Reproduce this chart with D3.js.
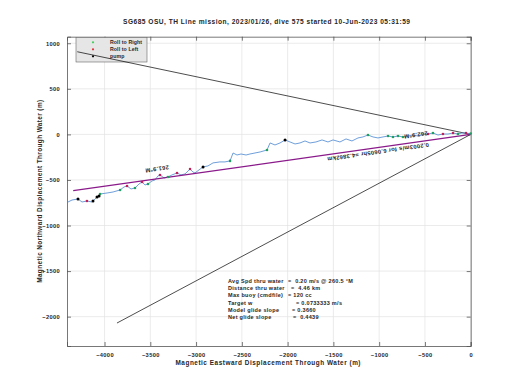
<!DOCTYPE html>
<html><head><meta charset="utf-8">
<script src="https://cdn.jsdelivr.net/npm/d3@7"></script>
<style>body{margin:0;background:#fff}svg{display:block}text{font-family:"Liberation Sans",Arial,sans-serif;font-weight:bold;fill:#262626}</style>
</head><body>
<script>
const title = "SG685 OSU, TH Line mission, 2023/01/26, dive 575 started 10-Jun-2023 05:31:59";
const xLabel = "Magnetic Eastward Displacement Through Water (m)";
const yLabel = "Magnetic Northward Displacement Through Water (m)";
const xTicks = [-4000,-3500,-3000,-2500,-2000,-1500,-1000,-500,0];
const yTicks = [1000,500,0,-500,-1000,-1500,-2000];
const xDomain = [-4410, 0];
const yDomain = [-2322, 1072];

// track (east, north) in m, from dive start outward
const trackE = [0,-51,-95,-139,-193,-248,-303,-357,-412,-466,-521,-576,-630,-685,-740,-794,-849,-903,-958,-1013,-1067,-1122,-1177,-1231,-1297,-1362,-1428,-1504,-1559,-1624,-1690,-1755,-1810,-1865,-1919,-1974,-2028,-2083,-2138,-2192,-2225,-2301,-2356,-2411,-2454,-2509,-2553,-2596,-2629,-2684,-2739,-2815,-2870,-2924,-2968,-3012,-3034,-3066,-3088,-3121,-3165,-3208,-3263,-3307,-3350,-3394,-3416,-3449,-3481,-3525,-3558,-3590,-3623,-3667,-3711,-3754,-3787,-3830,-3907,-3972,-4049,-4082,-4126,-4137,-4192,-4246,-4290,-4355,-4399];
const trackN = [0,15,15,4,15,4,4,-7,15,4,4,-18,-7,-18,-28,-18,-28,-18,-28,-39,-28,-7,-28,-39,-72,-50,-83,-61,-83,-61,-83,-94,-72,-94,-105,-83,-61,-94,-116,-94,-171,-193,-204,-215,-226,-215,-226,-204,-291,-302,-302,-313,-346,-357,-390,-423,-413,-380,-402,-434,-445,-423,-445,-467,-478,-445,-456,-500,-511,-544,-555,-522,-544,-588,-599,-566,-577,-610,-632,-643,-654,-687,-731,-742,-731,-742,-709,-720,-742];

const rollRightE = [0,-139,-412,-740,-794,-849,-903,-1122,-2225,-2629,-3307,-3525,-3667,-3830,-4049];
const rollRightN = [10,4,15,-28,-18,-28,-18,-7,-171,-291,-467,-544,-588,-610,-654];
const rollLeftE = [-51,-193,-303,-466,-3066,-3208,-3394,-3590,-3754,-4192];
const rollLeftN = [15,15,4,4,-380,-423,-445,-522,-566,-731];
const pumpE = [-2028,-2924,-4060,-4082,-4126,-4290];
const pumpN = [-61,-357,-676,-687,-731,-709];

// straight lines from origin
const boundUpperE = [0,-4298], boundUpperN = [0,907];
const boundLowerE = [0,-3864], boundLowerN = [0,-2070];
const dacE = [0,-4342], dacN = [0,-618];

const labelTexts = ["261.9°M","262.9°M","0.2003m/s for 6.0605hr =4.3862km"];
const labelE = [-3427,-600,-1013];
const labelN = [-380,-7,-193];
const labelAngle = 171.9;

const statsLabels = ["Avg Spd thru water","Distance thru water","Max buoy (cmdfile)","Target w","Model glide slope","Net glide slope"];
const statsValues = ["=  0.20 m/s @ 260.5 °M","=  4.46 km","= 120 cc","= 0.0733333 m/s","= 0.3660","=  0.4439"];
const statsEqX = [288,291,288,296,292,293];

const legendNames = ["Roll to Right","Roll to Left","pump"];
const legendColors = ["#3fcf5a","#e0303a","#000"];

const W=520,H=390;
const svg=d3.select("body").append("svg").attr("width",W).attr("height",H);
const L=67,R=470.7,T=36.7,B=346;
const x=d3.scaleLinear().domain(xDomain).range([L,R]);
const y=d3.scaleLinear().domain(yDomain).range([B,T]);

// grid
const g=svg.append("g");
g.selectAll(".gx").data(xTicks).join("line").attr("x1",d=>x(d)).attr("x2",d=>x(d)).attr("y1",T).attr("y2",B).attr("stroke","#e3e3e3").attr("stroke-width",0.7);
g.selectAll(".gy").data(yTicks).join("line").attr("y1",d=>y(d)).attr("y2",d=>y(d)).attr("x1",L).attr("x2",R).attr("stroke","#e3e3e3").attr("stroke-width",0.7);

// axes with inward ticks
const ax=d3.axisBottom(x).tickValues(xTicks).tickSize(-4).tickPadding(7).tickFormat(d3.format("d"));
const axT=d3.axisTop(x).tickValues(xTicks).tickSize(-4).tickFormat("");
const ay=d3.axisLeft(y).tickValues(yTicks).tickSize(-4).tickPadding(7).tickFormat(d3.format("d"));
const ayR=d3.axisRight(y).tickValues(yTicks).tickSize(-4).tickFormat("");
function style(sel){sel.select(".domain").attr("stroke","#555").attr("stroke-width",0.8);sel.selectAll(".tick line").attr("stroke","#555").attr("stroke-width",0.8);sel.selectAll("text").attr("font-size",5.7).attr("letter-spacing",0.35).attr("font-family","Liberation Sans").attr("font-weight","bold").attr("fill","#262626");}
svg.append("g").attr("transform",`translate(0,${B})`).call(ax).call(style);
svg.append("g").attr("transform",`translate(0,${T})`).call(axT).call(style);
svg.append("g").attr("transform",`translate(${L},0)`).call(ay).call(style);
svg.append("g").attr("transform",`translate(${R},0)`).call(ayR).call(style);

const line=d3.line().x(d=>x(d[0])).y(d=>y(d[1]));
const zip=(a,b)=>a.map((v,i)=>[v,b[i]]);

// legend
const lg=svg.append("g");
lg.append("rect").attr("x",76).attr("y",37.5).attr("width",71).attr("height",24.5).attr("fill","#e6e6e6").attr("stroke","#666").attr("stroke-width",0.6);
legendNames.forEach((n,i)=>{
  const yy=42.3+i*7;
  lg.append("circle").attr("cx",93).attr("cy",yy).attr("r",1.1).attr("fill",legendColors[i]);
  lg.append("text").attr("x",110).attr("y",yy).attr("dy","0.35em").attr("font-size",5.2).attr("letter-spacing",0.1).text(n);
});

// black bounding lines
svg.append("path").datum(zip(boundUpperE,boundUpperN)).attr("d",line).attr("stroke","#000").attr("stroke-width",0.7).attr("fill","none");
svg.append("path").datum(zip(boundLowerE,boundLowerN)).attr("d",line).attr("stroke","#000").attr("stroke-width",0.7).attr("fill","none");

// track
svg.append("path").datum(zip(trackE,trackN)).attr("d",line).attr("stroke","#4a86d0").attr("stroke-width",0.8).attr("fill","none");
// DAC line
svg.append("path").datum(zip(dacE,dacN)).attr("d",line).attr("stroke","#8a1a8a").attr("stroke-width",1.3).attr("fill","none");

// markers
svg.selectAll(".rr").data(zip(rollRightE,rollRightN)).join("circle").attr("cx",d=>x(d[0])).attr("cy",d=>y(d[1])).attr("r",1.3).attr("fill","#20a060");
svg.selectAll(".rl").data(zip(rollLeftE,rollLeftN)).join("circle").attr("cx",d=>x(d[0])).attr("cy",d=>y(d[1])).attr("r",1.3).attr("fill","#c0205a");
svg.selectAll(".pp").data(zip(pumpE,pumpN)).join("circle").attr("cx",d=>x(d[0])).attr("cy",d=>y(d[1])).attr("r",1.5).attr("fill","#000");

// labels along line
labelTexts.forEach((t,i)=>{
  svg.append("text").attr("transform",`translate(${x(labelE[i])},${y(labelN[i])}) rotate(${labelAngle})`)
    .attr("text-anchor","middle").attr("dy","0.35em").attr("font-size",5.8).attr("letter-spacing",0.3).attr("fill","#000").text(t);
});

// stats
statsLabels.forEach((s,i)=>{
  const yy=281+i*7.2;
  svg.append("text").attr("x",228).attr("y",yy).attr("dy","0.35em").attr("font-size",5.5).attr("letter-spacing",0.3).text(s);
  svg.append("text").attr("x",statsEqX[i]).attr("y",yy).attr("dy","0.35em").attr("font-size",5.5).attr("letter-spacing",0.3).style("white-space","pre").text(statsValues[i]);
});

// titles
svg.append("text").attr("x",266.5).attr("y",22).attr("dy","0.35em").attr("text-anchor","middle").attr("font-size",6.6).attr("textLength",287).attr("lengthAdjust","spacing").text(title);
svg.append("text").attr("x",268).attr("y",363).attr("dy","0.35em").attr("text-anchor","middle").attr("font-size",6.4).attr("textLength",185).attr("lengthAdjust","spacing").text(xLabel);
svg.append("text").attr("transform",`translate(40,${(T+B)/2}) rotate(-90)`).attr("dy","0.35em").attr("text-anchor","middle").attr("font-size",6.4).attr("textLength",183).attr("lengthAdjust","spacing").text(yLabel);
</script>
</body></html>
